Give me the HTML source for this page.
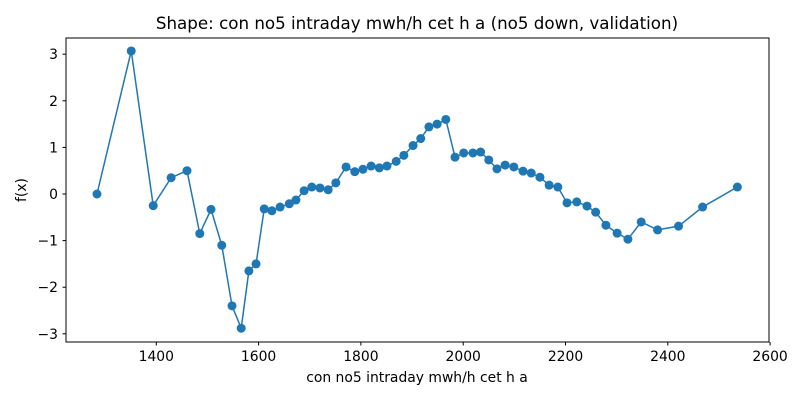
<!DOCTYPE html>
<html><head><meta charset="utf-8"><style>
html,body{margin:0;padding:0;background:#fff;}
svg{display:block;font-family:"DejaVu Sans","Liberation Sans",sans-serif;}
</style></head><body>
<svg id="chart" width="800" height="400" viewBox="0 0 800 400">
<rect x="0" y="0" width="800" height="400" fill="#fff"/>
<text x="417" y="29" text-anchor="middle" font-size="16.7" fill="#000">Shape: con no5 intraday mwh/h cet h a (no5 down, validation)</text>
<g id="axes"></g>
<g id="series"></g>
<rect x="66" y="38" width="703" height="304" fill="none" stroke="#000" stroke-width="1"/>
<text x="417" y="382" text-anchor="middle" font-size="13.9">con no5 intraday mwh/h cet h a</text>
<text x="0" y="0" transform="translate(26,190) rotate(-90)" text-anchor="middle" font-size="13.9">f(x)</text>
</svg>
<script>
const xValues=[1284,1351,1394,1429,1460,1485,1507,1528,1548,1566,1581,1595,1611,1626,1642,1660,1673,1689,1704,1720,1736,1751,1771,1788,1804,1820,1836,1851,1869,1884,1902,1917,1933,1949,1966,1984,2001,2019,2034,2050,2066,2082,2099,2117,2133,2150,2168,2185,2203,2222,2242,2259,2279,2301,2322,2348,2380,2421,2468,2536];
const yValues=[0,3.07,-0.25,0.35,0.5,-0.85,-0.33,-1.1,-2.4,-2.88,-1.65,-1.5,-0.32,-0.36,-0.28,-0.21,-0.13,0.07,0.15,0.13,0.09,0.24,0.58,0.48,0.53,0.6,0.56,0.6,0.7,0.83,1.04,1.19,1.44,1.5,1.6,0.79,0.88,0.88,0.9,0.73,0.54,0.62,0.58,0.49,0.45,0.36,0.19,0.15,-0.19,-0.17,-0.26,-0.39,-0.67,-0.84,-0.97,-0.6,-0.77,-0.69,-0.28,0.15];
const xTicks=[1400,1600,1800,2000,2200,2400,2600];
const yTicks=[-3,-2,-1,0,1,2,3];
const NS="http://www.w3.org/2000/svg";
function sx(v){return 156.3+(v-1400)*0.5115;}
function sy(v){return 194-v*46.6;}
const axes=document.getElementById('axes');
xTicks.forEach(t=>{
 const l=document.createElementNS(NS,'line');
 l.setAttribute('x1',sx(t));l.setAttribute('x2',sx(t));l.setAttribute('y1',342);l.setAttribute('y2',345.5);l.setAttribute('stroke','#000');
 
 
 axes.appendChild(l);
 const tx=document.createElementNS(NS,'text');
 tx.setAttribute('x',sx(t));tx.setAttribute('y',361);tx.setAttribute('text-anchor','middle');tx.setAttribute('font-size','13.9');
 tx.textContent=t;
 
 
 axes.appendChild(tx);
});
yTicks.forEach(t=>{
 const l=document.createElementNS(NS,'line');
 l.setAttribute('x1',62.5);l.setAttribute('x2',66);l.setAttribute('y1',sy(t));l.setAttribute('y2',sy(t));l.setAttribute('stroke','#000');
 
 
 axes.appendChild(l);
 const tx=document.createElementNS(NS,'text');
 tx.setAttribute('x',58);tx.setAttribute('y',sy(t)+5);tx.setAttribute('text-anchor','end');tx.setAttribute('font-size','13.9');
 tx.textContent=(t<0?'\u2212'+Math.abs(t):t);
 
 
 axes.appendChild(tx);
});
const g=document.getElementById('series');
const pl=document.createElementNS(NS,'polyline');
pl.setAttribute('points',xValues.map((x,i)=>sx(x)+','+sy(yValues[i])).join(' '));
pl.setAttribute('fill','none');pl.setAttribute('stroke','#1f77b4');pl.setAttribute('stroke-width','1.5');


g.appendChild(pl);
xValues.forEach((x,i)=>{
 const c=document.createElementNS(NS,'circle');
 c.setAttribute('cx',sx(x));c.setAttribute('cy',sy(yValues[i]));c.setAttribute('r',4.5);c.setAttribute('fill','#1f77b4');
 
 
 g.appendChild(c);
});
</script>
</body></html>
